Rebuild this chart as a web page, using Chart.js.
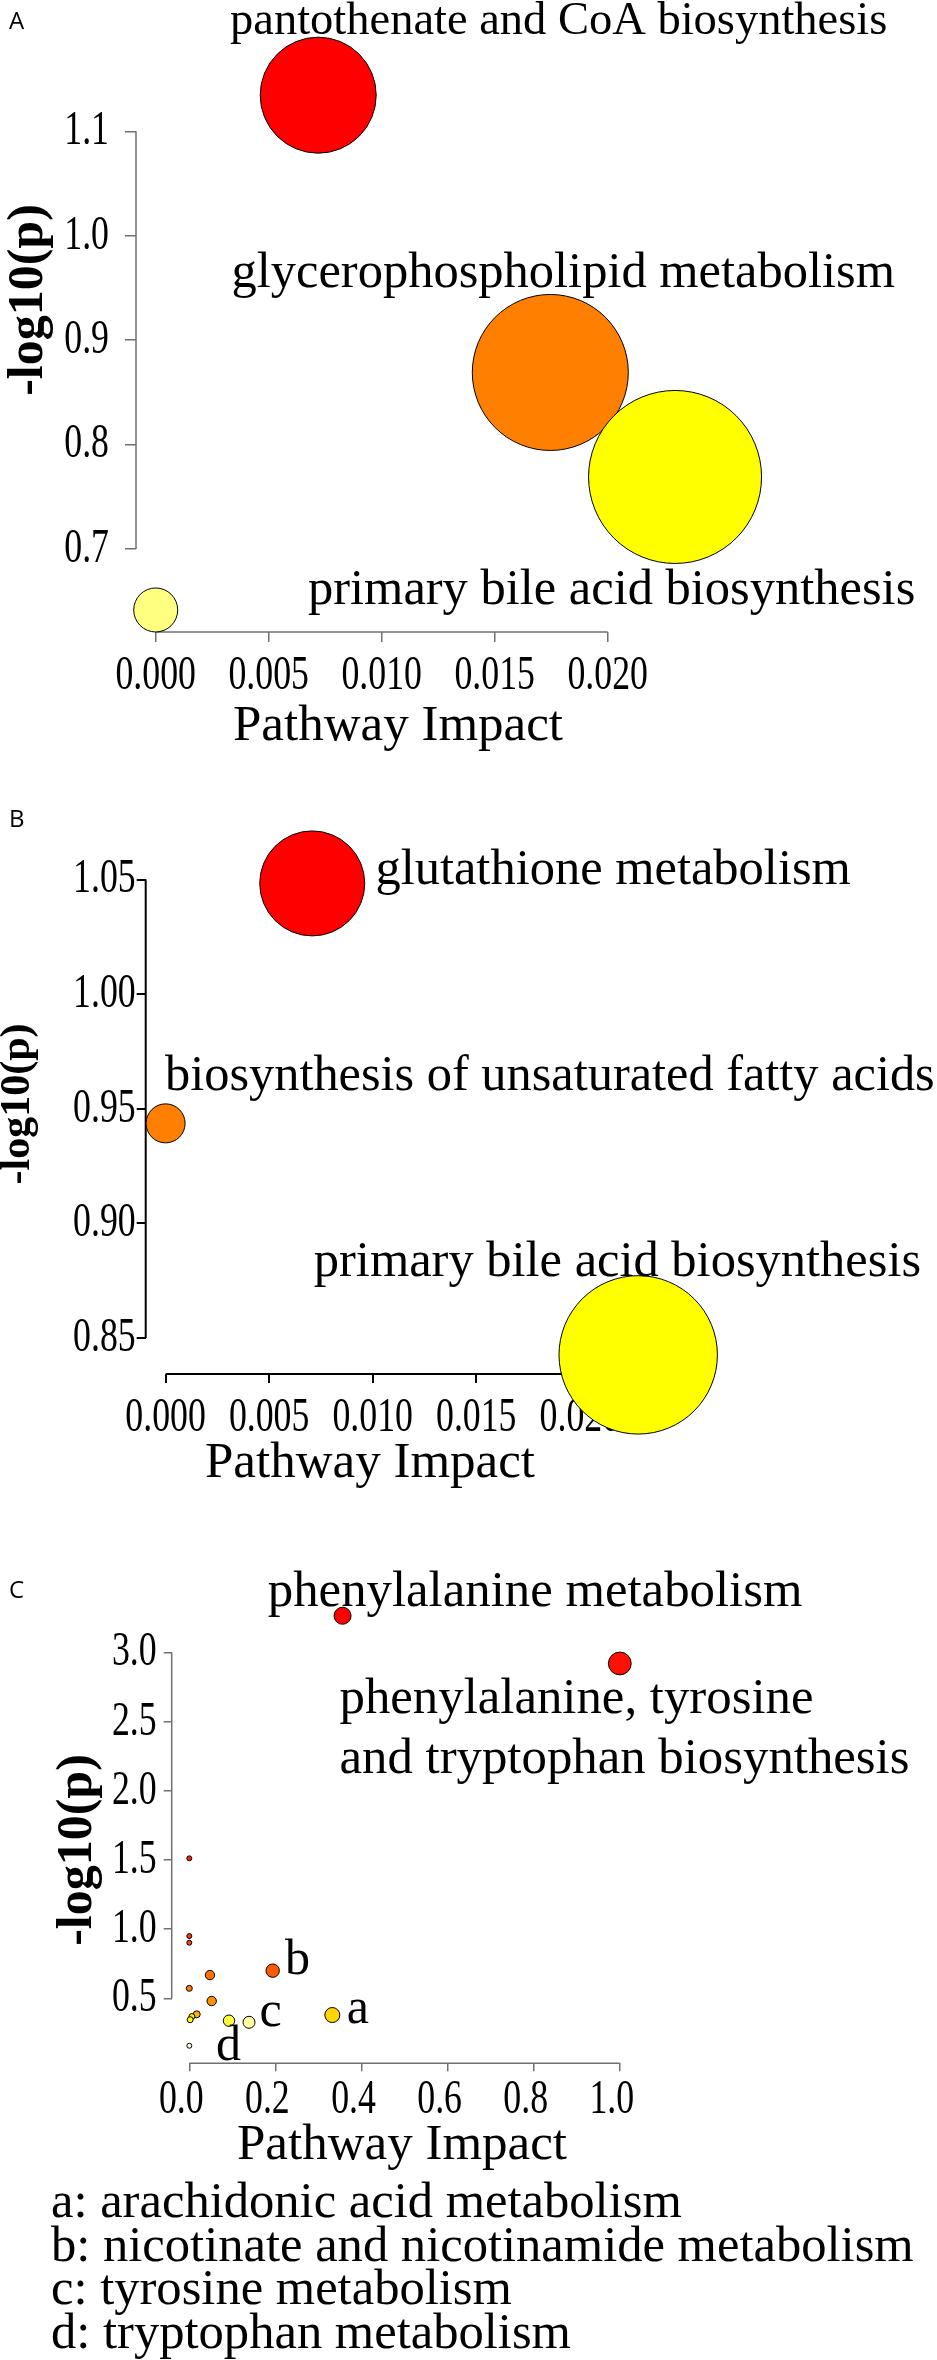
<!DOCTYPE html>
<html>
<head>
<meta charset="utf-8">
<script src="https://cdn.jsdelivr.net/npm/chart.js@4.4.1/dist/chart.umd.min.js"></script>
<style>
html,body{margin:0;padding:0;background:#fff;}
#wrap{position:relative;width:937px;height:2360px;overflow:hidden;background:#fff;}
#wrap canvas{position:absolute;left:0;}
</style>
</head>
<body>
<div id="wrap">
<canvas id="cA" width="937" height="780" style="top:0px"></canvas>
<canvas id="cB" width="937" height="720" style="top:780px"></canvas>
<canvas id="cC" width="937" height="860" style="top:1500px"></canvas>
</div>
<script>
// ---------------- DATA ----------------
// Panel A
const impactA = [0.00719, 0.01746, 0.02298, 0.0];
const logpA   = [1.1346, 0.8690, 0.7689, 0.6415];
const sizeA   = [58, 78, 86.5, 22];
const colorA  = ['#FF0000', '#FF8000', '#FFFF00', '#FFFF80'];
const xTicksA = [0, 0.005, 0.010, 0.015, 0.020];
const yTicksA = [0.7, 0.8, 0.9, 1.0, 1.1];
const labelsA = [
  {text: 'pantothenate and CoA biosynthesis', x: 0.003288, y: 1.1932, size: 46.5},
  {text: 'glycerophospholipid metabolism',    x: 0.003354, y: 0.9509, size: 50.5},
  {text: 'primary bile acid biosynthesis',    x: 0.006739, y: 0.6472, size: 50.5}
];

// Panel B
const impactB = [0.00708, 0.0, 0.02282];
const logpB   = [1.0483, 0.9436, 0.8426];
const sizeB   = [52.5, 19.5, 79.2];
const colorB  = ['#FF0000', '#FF8000', '#FFFF00'];
const xTicksB = [0, 0.005, 0.010, 0.015, 0.020];
const yTicksB = [0.85, 0.90, 0.95, 1.00, 1.05];
const labelsB = [
  {text: 'glutathione metabolism',                  x: 0.010130, y: 1.0480, size: 50.5},
  {text: 'biosynthesis of unsaturated fatty acids', x: -0.000029, y: 0.9582, size: 50.4},
  {text: 'primary bile acid biosynthesis',          x: 0.007156, y: 0.8770, size: 50.5}
];

// Panel C
const impactC = [0.356, 1.0, 0.0, 0.0, 0.0, 0.1937, 0.048, 0.0, 0.052, 0.0172, 0.3322, 0.006, 0.002, 0.0922, 0.1387, 0.0];
const logpC   = [3.266, 2.921, 1.512, 0.950, 0.902, 0.700, 0.668, 0.572, 0.480, 0.384, 0.379, 0.368, 0.345, 0.338, 0.3265, 0.157];
const sizeC   = [8.5, 11.4, 2.5, 2.5, 2.5, 6.7, 4.7, 3, 4.7, 3.5, 7.5, 3, 3, 5.7, 6, 2.5];
const colorC  = ['#FF0000', '#FF1000', '#FF2000', '#FF3A00', '#FF4500', '#FF5A00', '#FF7000', '#FF8000',
                 '#FF9000', '#FFB000', '#FFD500', '#FFE800', '#FFFF00', '#FFFF40', '#FFFFA0', '#FFFFE0'];
const xTicksC = [0, 0.2, 0.4, 0.6, 0.8, 1.0];
const yTicksC = [0.5, 1.0, 1.5, 2.0, 2.5, 3.0];
const labelsC = [
  {text: 'phenylalanine metabolism',    x: 0.18235, y: 3.3366, size: 50.8},
  {text: 'phenylalanine, tyrosine',     x: 0.34890, y: 2.5629, size: 50.8},
  {text: 'and tryptophan biosynthesis', x: 0.34890, y: 2.1320, size: 50.8},
  {text: 'b', x: 0.22230, y: 0.6757, size: 50},
  {text: 'c', x: 0.16307, y: 0.2997, size: 50},
  {text: 'a', x: 0.36562, y: 0.3236, size: 50},
  {text: 'd', x: 0.06202, y: 0.0503, size: 50}
];
const legendC = [
  'a: arachidonic acid metabolism',
  'b: nicotinate and nicotinamide metabolism',
  'c: tyrosine metabolism',
  'd: tryptophan metabolism'
];

// ---------------- RENDERING ----------------
const SERIF = "'Liberation Serif', 'Times New Roman', serif";
const SANS = "'Open Sans', 'Liberation Sans', sans-serif";
const TICK_CONDENSE = 0.73;

class CondensedLinearScale extends Chart.LinearScale {
  drawLabels(chartArea) {
    const optionTicks = this.options.ticks;
    if (!optionTicks.display) return;
    const ctx = this.ctx;
    const items = this.getLabelItems(chartArea);
    for (const item of items) {
      const o = item.options;
      ctx.save();
      ctx.translate(o.translation[0], o.translation[1]);
      if (o.rotation) ctx.rotate(o.rotation);
      ctx.scale(TICK_CONDENSE, 1);
      ctx.font = item.font.string;
      ctx.fillStyle = o.color;
      ctx.textAlign = o.textAlign;
      ctx.textBaseline = o.textBaseline;
      const lines = Array.isArray(item.label) ? item.label : [item.label];
      let y = item.textOffset;
      for (const line of lines) { ctx.fillText(String(line), 0, y); y += item.font.lineHeight; }
      ctx.restore();
    }
  }
}
CondensedLinearScale.id = 'condensedLinear';
CondensedLinearScale.defaults = Chart.LinearScale.defaults;
Chart.register(CondensedLinearScale);

function axis(o) {
  return {
    type: 'condensedLinear',
    position: o.position,
    min: o.min, max: o.max,
    afterBuildTicks: s => {
      s.ticks = o.ticks.map(v => ({value: v}));
      s.min = o.min; s.max = o.max;
    },
    afterFit: s => {
      if (o.position === 'bottom') s.height = o.size; else s.width = o.size;
      s.paddingLeft = 0; s.paddingRight = 0; s.paddingTop = 0; s.paddingBottom = 0;
    },
    ticks: {
      autoSkip: false, maxRotation: 0, minRotation: 0,
      padding: o.pad, color: '#000', labelOffset: o.shift || 0,
      font: {family: SERIF, size: o.font, lineHeight: 1},
      callback: v => Number(v).toFixed(o.dec)
    },
    grid: {
      drawOnChartArea: false, drawTicks: true,
      tickLength: o.tl, tickColor: o.color, tickWidth: o.lw,
      lineWidth: o.lw, color: o.color
    },
    border: {display: false}
  };
}

function axisLinePlugin(color, width) {
  return {
    id: 'rAxisLine',
    beforeDatasetsDraw(chart) {
      const {ctx, chartArea} = chart;
      const xs = chart.scales.x, ys = chart.scales.y;
      const xt = xs.ticks, yt = ys.ticks;
      ctx.save();
      ctx.strokeStyle = color;
      ctx.lineWidth = width;
      ctx.beginPath();
      ctx.moveTo(xs.getPixelForValue(xt[0].value), chartArea.bottom);
      ctx.lineTo(xs.getPixelForValue(xt[xt.length - 1].value), chartArea.bottom);
      ctx.moveTo(chartArea.left, ys.getPixelForValue(yt[0].value));
      ctx.lineTo(chartArea.left, ys.getPixelForValue(yt[yt.length - 1].value));
      ctx.stroke();
      ctx.restore();
    }
  };
}

function textPlugin(items) {
  return {
    id: 'figText',
    afterDatasetsDraw(chart) {
      const ctx = chart.ctx;
      const xs = chart.scales.x, ys = chart.scales.y;
      for (const it of items) {
        ctx.save();
        ctx.font = (it.weight || 'normal') + ' ' + it.size + 'px ' + (it.family || SERIF);
        ctx.fillStyle = '#000';
        ctx.textAlign = it.align || 'left';
        ctx.textBaseline = 'alphabetic';
        const px = it.data ? xs.getPixelForValue(it.x) : it.x;
        const py = it.data ? ys.getPixelForValue(it.y) : it.y;
        ctx.translate(px, py);
        if (it.rotate) ctx.rotate(it.rotate);
        ctx.fillText(it.text, 0, 0);
        ctx.restore();
      }
    }
  };
}

function buildPanel(p) {
  const pts = p.x.map((xv, i) => ({x: xv, y: p.y[i], r: p.r[i]}));
  const items = p.labels.map(l => Object.assign({data: true}, l)).concat(p.extraText);
  return new Chart(document.getElementById(p.canvas), {
    type: 'bubble',
    data: {datasets: [{
      data: pts,
      backgroundColor: p.colors,
      borderColor: '#000',
      borderWidth: 1,
      hoverRadius: 0,
      clip: false
    }]},
    options: {
      responsive: false, animation: false, devicePixelRatio: 1, events: [],
      layout: {padding: 0, autoPadding: false},
      plugins: {legend: {display: false}, tooltip: {enabled: false}},
      scales: {x: p.xAxis, y: p.yAxis}
    },
    plugins: [axisLinePlugin(p.axisColor, p.axisWidth), textPlugin(items)]
  });
}

// Panel A
buildPanel({
  canvas: 'cA', x: impactA, y: logpA, r: sizeA, colors: colorA, labels: labelsA,
  axisColor: '#707070', axisWidth: 1.5,
  xAxis: axis({position: 'bottom', min: -0.000872, max: 0.03457, ticks: xTicksA, dec: 3,
               size: 148, tl: 10, pad: 9.5, font: 49, color: '#707070', lw: 1.5}),
  yAxis: axis({position: 'left', min: 0.62040, max: 1.22577, ticks: yTicksA, dec: 1,
               size: 136, tl: 11, pad: 16, font: 49, color: '#707070', lw: 1.5}),
  extraText: [
    {text: 'A', x: 9, y: 29.3, size: 24, family: SANS},
    {text: '-log10(p)', x: 42, y: 300, size: 50, weight: 'bold', align: 'center', rotate: -Math.PI / 2},
    {text: 'Pathway Impact', x: 398, y: 740, size: 51, align: 'center'}
  ]
});

// Panel B
buildPanel({
  canvas: 'cB', x: impactB, y: logpB, r: sizeB, colors: colorB, labels: labelsB,
  axisColor: '#000', axisWidth: 2,
  xAxis: axis({position: 'bottom', min: -0.000961, max: 0.037248, ticks: xTicksB, dec: 3,
               size: 126, tl: 9, pad: 10.5, font: 49, color: '#000', lw: 2}),
  yAxis: axis({position: 'left', min: 0.834250, max: 1.093412, ticks: yTicksB, dec: 2,
               size: 145.7, tl: 9, pad: 1, font: 49, color: '#000', lw: 2}),
  extraText: [
    {text: 'B', x: 9, y: 46.7, size: 24, family: SANS},
    {text: '-log10(p)', x: 29, y: 324, size: 42, weight: 'bold', align: 'center', rotate: -Math.PI / 2},
    {text: 'Pathway Impact', x: 370, y: 697, size: 51, align: 'center'}
  ]
});

// Panel C
buildPanel({
  canvas: 'cC', x: impactC, y: logpC, r: sizeC, colors: colorC, labels: labelsC,
  axisColor: '#707070', axisWidth: 1.5,
  xAxis: axis({position: 'bottom', min: -0.040883, max: 1.736818, ticks: xTicksC, dec: 1,
               size: 296.7, tl: 8, pad: 4.2, font: 49, color: '#707070', lw: 1.5, shift: -8}),
  yAxis: axis({position: 'left', min: 0.030007, max: 4.103037, ticks: yTicksC, dec: 1,
               size: 171.7, tl: 8, pad: 7, font: 49, color: '#707070', lw: 1.5}),
  extraText: [
    {text: 'C', x: 9, y: 98, size: 24, family: SANS},
    {text: '-log10(p)', x: 90.8, y: 350, size: 50, weight: 'bold', align: 'center', rotate: -Math.PI / 2},
    {text: 'Pathway Impact', x: 402, y: 659, size: 51, align: 'center'}
  ].concat(legendC.map((t, i) => ({text: t, x: 51, y: 717 + i * 43.6, size: 50.6})))
});
</script>
</body>
</html>
